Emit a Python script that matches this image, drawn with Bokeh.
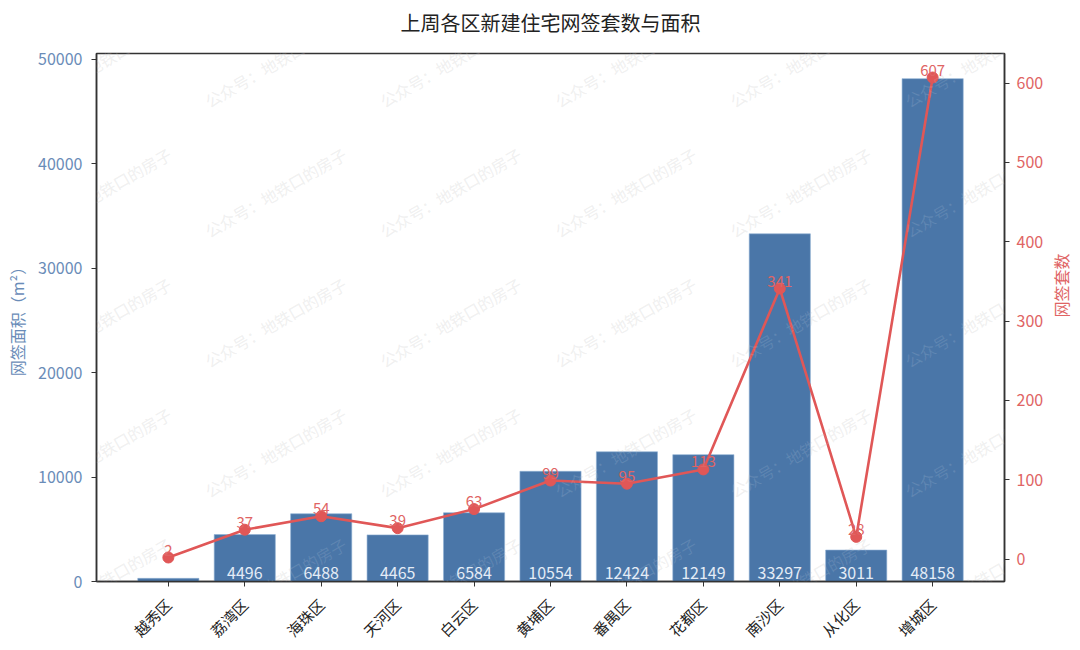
import math
from bokeh.plotting import figure
from bokeh.models import (ColumnDataSource, FactorRange, Range1d, LinearAxis,
                          SingleIntervalTicker, Label, Title)
from bokeh.embed import file_html
from bokeh.resources import INLINE

# ---- data ----
districts = ["越秀区", "荔湾区", "海珠区", "天河区", "白云区", "黄埔区",
             "番禺区", "花都区", "南沙区", "从化区", "增城区"]
area = [300, 4496, 6488, 4465, 6584, 10554, 12424, 12149, 33297, 3011, 48158]
units = [2, 37, 54, 39, 63, 99, 95, 113, 341, 28, 607]

title = "上周各区新建住宅网签套数与面积"
left_label = "网签面积（m²）"
right_label = "网签套数"
watermark = "公众号：地铁口的房子"

BAR = "#4a76a8"
RED = "#e05757"
BLUE_TXT = "#6a8cb8"
RED_TXT = "#e06464"
FONT = "Noto Sans CJK SC"

area_max = max(area) * 1.05
u_lo, u_hi = min(units), max(units)
u_pad = (u_hi - u_lo) * 0.05

p = figure(x_range=FactorRange(*districts, range_padding=0.08),
           y_range=Range1d(0, area_max),
           frame_width=908, frame_height=528,
           min_border_left=96, min_border_top=53, min_border_right=66,
           min_border_bottom=40,
           output_backend="svg", toolbar_location=None)
p.extra_y_ranges = {"cnt": Range1d(u_lo - u_pad, u_hi + u_pad)}

p.title.text = title
p.title.align = "center"
p.title.text_font = FONT
p.title.text_font_size = "20px"
p.title.text_font_style = "normal"
p.title.text_color = "#222222"
p.title.offset = 0
# spacer between the title and the frame
p.add_layout(Title(text=" ", text_font_size="5px", standoff=4), "above")

p.xgrid.visible = False
p.ygrid.visible = False
p.outline_line_color = "#333333"
p.outline_line_width = 1.5
p.background_fill_color = "white"
p.border_fill_color = "white"

# watermark (drawn first, under the marks)
for j in range(5):
    for k in range(6):
        p.add_layout(Label(x=4 + 175 * k, y=519 - 130 * j, x_units="screen",
                           y_units="screen", text=watermark, angle=30,
                           angle_units="deg", text_align="center",
                           text_baseline="middle", text_font=FONT,
                           text_font_size="16px", text_color="#c8c8c8",
                           text_alpha=0.3, level="underlay"))

src = ColumnDataSource(dict(d=districts, a=area, u=units,
                            at=[str(v) if v > 1000 else "" for v in area],
                            ut=[str(v) for v in units]))

p.vbar(x="d", top="a", width=0.8, source=src, fill_color=BAR,
       line_color="#8fb0d4", line_width=0.6)
p.text(x="d", y=0, text="at", source=src, text_align="center",
       text_baseline="bottom", y_offset=-3, text_color="#e4ecf6",
       text_font_size="16px", text_font={"value": FONT})

p.line(x="d", y="u", source=src, y_range_name="cnt", line_color=RED,
       line_width=2.6)
p.scatter(x="d", y="u", source=src, y_range_name="cnt", size=11,
          fill_color=RED, line_color=RED)
p.text(x="d", y="u", text="ut", source=src, y_range_name="cnt",
       text_align="center", text_baseline="bottom", y_offset=-2,
       text_color=RED_TXT, text_font_size="15px", text_font={"value": FONT})

# watermark overlay (faint, above bars too)
for j in range(5):
    for k in range(6):
        p.add_layout(Label(x=4 + 175 * k, y=519 - 130 * j, x_units="screen",
                           y_units="screen", text=watermark, angle=30,
                           angle_units="deg", text_align="center",
                           text_baseline="middle", text_font=FONT,
                           text_font_size="16px", text_color="#ffffff",
                           text_alpha=0.12, level="overlay"))

# axes
la = p.yaxis[0]
la.ticker = SingleIntervalTicker(interval=10000)
la.axis_label = left_label
ra = LinearAxis(y_range_name="cnt", ticker=SingleIntervalTicker(interval=100),
                axis_label=right_label)
ra.axis_label_orientation = math.pi / 2
p.add_layout(ra, "right")

for ax, col in ((la, BLUE_TXT), (ra, RED_TXT)):
    ax.major_label_text_color = col
    ax.axis_label_text_color = col
    ax.major_label_text_font = FONT
    ax.axis_label_text_font = FONT
    ax.major_label_text_font_size = "16px"
    ax.axis_label_text_font_size = "16px"
    ax.axis_label_text_font_style = "normal"
    ax.axis_line_color = "#333333"
    ax.axis_line_width = 1.5
    ax.major_tick_line_color = "#333333"
    ax.major_tick_out = 5
    ax.major_tick_in = 0
    ax.minor_tick_line_color = None
la.major_label_standoff = 9
ra.major_label_standoff = 7
la.axis_label_standoff = 6
ra.axis_label_standoff = 15

xa = p.xaxis[0]
xa.major_label_orientation = math.pi / 4
xa.major_label_text_font = FONT
xa.major_label_text_font_size = "15px"
xa.major_label_text_color = "#222222"
xa.axis_line_color = "#333333"
xa.axis_line_width = 1.5
xa.major_tick_line_color = "#333333"
xa.major_tick_out = 5
xa.major_tick_in = 0
xa.minor_tick_line_color = None
xa.major_label_standoff = 15

open("out.html", "w").write(file_html(p, INLINE))
